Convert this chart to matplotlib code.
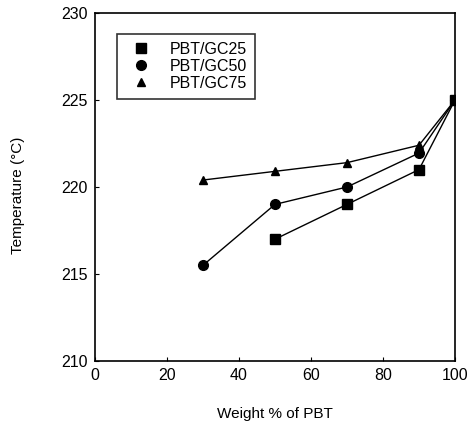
import numpy as np
import matplotlib
matplotlib.use("Agg")
import matplotlib.pyplot as plt
from matplotlib.lines import Line2D

plt.rcParams['font.family'] = ['Liberation Sans', 'DejaVu Sans']

# data
x_gc25 = [50, 70, 90, 100]
y_gc25 = [217.0, 219.0, 221.0, 225.0]
x_gc50 = [30, 50, 70, 90, 100]
y_gc50 = [215.5, 219.0, 220.0, 221.95, 225.0]
x_gc75 = [30, 50, 70, 90, 100]
y_gc75 = [220.4, 220.9, 221.4, 222.4, 225.0]
labels = ['PBT/GC25', 'PBT/GC50', 'PBT/GC75']
markers = ['s', 'o', '^']
msizes = [6.5, 7, 5.5]

fig = plt.figure(figsize=(4.77, 4.26), dpi=100)
ax = fig.add_axes([95/477, 1 - 361/426, (455 - 95)/477, (361 - 13)/426])

series = [(x_gc25, y_gc25), (x_gc50, y_gc50), (x_gc75, y_gc75)]
for (xs, ys), m, ms in zip(series, markers, msizes):
    ax.plot(xs, ys, 'k-', marker=m, ms=ms, lw=1)

ax.set_xlim(0, 100)
ax.set_ylim(210, 230)
ax.set_xticks(np.arange(0, 101, 20))
ax.set_yticks(np.arange(210, 231, 5))
ax.tick_params(direction='in', length=3, labelsize=11.5, width=0.8, pad=5)
for s in ax.spines.values():
    s.set_linewidth(1.2)

ax.set_xlabel('Weight % of PBT', fontsize=11)
ax.xaxis.set_label_coords(0.5, -0.152)
ax.xaxis.label.set_va('center')
ax.set_ylabel('Temperature (\u00b0C)', fontsize=11)
ax.yaxis.set_label_coords(-0.214, 0.477)
ax.yaxis.label.set_va('center')

# legend shows markers only
handles = [Line2D([], [], color='k', ls='none', marker=m, ms=ms)
           for m, ms in zip(markers, msizes)]
leg = ax.legend(handles, labels, loc='upper left', bbox_to_anchor=(0.061, 0.94),
                borderaxespad=0, frameon=True, fancybox=False, edgecolor='k',
                fontsize=11.5, handlelength=2, handletextpad=0.8,
                labelspacing=0.12, borderpad=0.5)
leg.get_frame().set_linewidth(1.2)

fig.savefig('out.png', dpi=100)
